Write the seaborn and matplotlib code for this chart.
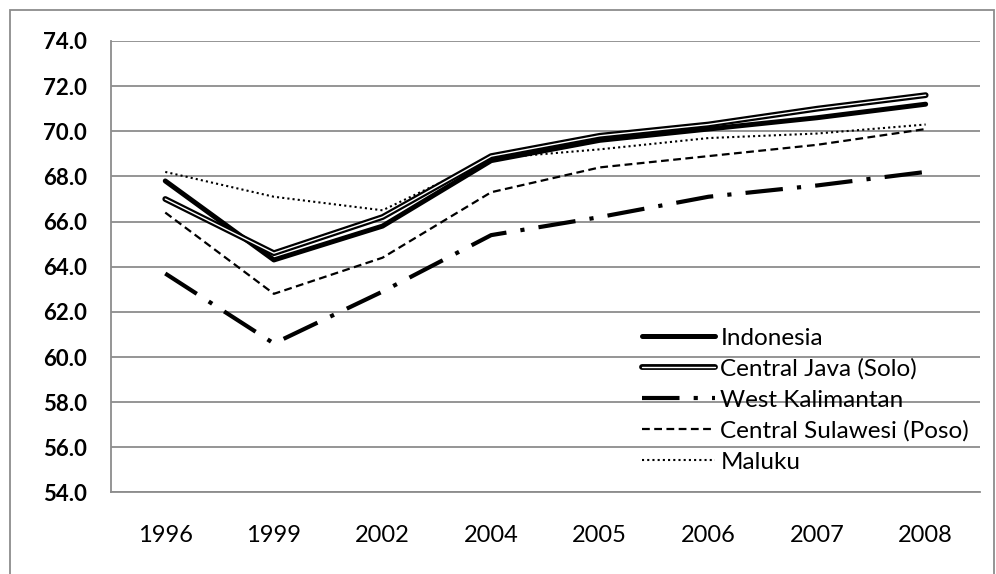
import numpy as np
import pandas as pd
import matplotlib
matplotlib.use("Agg")
import matplotlib.pyplot as plt
import matplotlib.patheffects as pe
from matplotlib.patches import Rectangle
import seaborn as sns

years = ["1996", "1999", "2002", "2004", "2005", "2006", "2007", "2008"]
indonesia = [67.8, 64.3, 65.8, 68.7, 69.6, 70.1, 70.6, 71.2]
central_java = [67.0, 64.6, 66.2, 68.9, 69.8, 70.3, 71.0, 71.6]
west_kalimantan = [63.7, 60.6, 62.9, 65.4, 66.2, 67.1, 67.6, 68.2]
central_sulawesi = [66.4, 62.8, 64.4, 67.3, 68.4, 68.9, 69.4, 70.1]
maluku = [68.2, 67.1, 66.5, 68.8, 69.2, 69.7, 69.9, 70.3]

series = {
    "Indonesia": indonesia,
    "Central Java (Solo)": central_java,
    "West Kalimantan": west_kalimantan,
    "Central Sulawesi (Poso)": central_sulawesi,
    "Maluku": maluku,
}

sns.set_style("white")
plt.rcParams["font.family"] = ["Lato", "DejaVu Sans"]
plt.rcParams["text.color"] = "black"
plt.rcParams["xtick.color"] = "black"
plt.rcParams["ytick.color"] = "black"

grey = "#8c8c8c"
fig = plt.figure(figsize=(9.96, 5.74), dpi=100)
ax = fig.add_axes([0.1114, 0.142, 0.8725, 0.7866])

df = pd.DataFrame({"pos": np.arange(len(years))})
for name, vals in series.items():
    df[name] = vals

# Indonesia: thick solid
sns.lineplot(data=df, x="pos", y="Indonesia", ax=ax, color="black", lw=3.6,
             label="Indonesia", zorder=3)
# Central Java: double line (black stroke with white core)
sns.lineplot(data=df, x="pos", y="Central Java (Solo)", ax=ax, color="white", lw=1.0,
             label="Central Java (Solo)", zorder=4,
             path_effects=[pe.Stroke(linewidth=4.2, foreground="black"), pe.Normal()])
# West Kalimantan: long dash - dot
sns.lineplot(data=df, x="pos", y="West Kalimantan", ax=ax, color="black", lw=3.0,
             label="West Kalimantan", zorder=3)
ax.lines[-1].set_dashes([9, 3.4, 1, 3.4])
ax.lines[-1].set_dash_capstyle("butt")
# Central Sulawesi: dashed
sns.lineplot(data=df, x="pos", y="Central Sulawesi (Poso)", ax=ax, color="black", lw=1.6,
             label="Central Sulawesi (Poso)", zorder=3)
ax.lines[-1].set_dashes([3.5, 2])
# Maluku: dotted
sns.lineplot(data=df, x="pos", y="Maluku", ax=ax, color="black", lw=1.5,
             label="Maluku", zorder=3)
ax.lines[-1].set_dashes([1, 1.5])

ax.set_xlim(-0.5, len(years) - 0.5)
ax.set_ylim(54, 74)
yt = np.arange(54, 74.1, 2)
ax.set_yticks(yt)
ax.set_yticklabels([f"{v:.1f}" for v in yt])
ax.set_xticks(np.arange(len(years)))
ax.set_xticklabels(years)
ax.set_xticks(np.arange(-0.5, len(years)), minor=True)
ax.tick_params(axis="x", which="major", length=0, pad=23.5, labelsize=17)
ax.tick_params(axis="x", which="minor", length=7.2, color=grey, width=1.2, direction="out")
ax.tick_params(axis="y", length=6.5, color=grey, width=1.2, direction="out", pad=11,
               labelsize=16)
for lab in ax.get_yticklabels():
    lab.set_fontweight("bold")
ax.set_xlabel("")
ax.set_ylabel("")

ax.yaxis.grid(True, color=grey, lw=1.3)
ax.set_axisbelow(True)
for s in ["top", "right"]:
    ax.spines[s].set_visible(False)
for s in ["left", "bottom"]:
    ax.spines[s].set_color(grey)
    ax.spines[s].set_linewidth(1.3)

leg = ax.legend(loc="lower left", bbox_to_anchor=(0.611, 0.044), frameon=False,
                fontsize=17.5, handlelength=3.0, handletextpad=0.23, labelspacing=0.4,
                borderpad=0, borderaxespad=0)

fig.patches.append(Rectangle((0.010, -0.01), 0.988, 0.9926, transform=fig.transFigure,
                             fill=False, edgecolor=grey, lw=1.3))

fig.savefig("out.png", dpi=100)
